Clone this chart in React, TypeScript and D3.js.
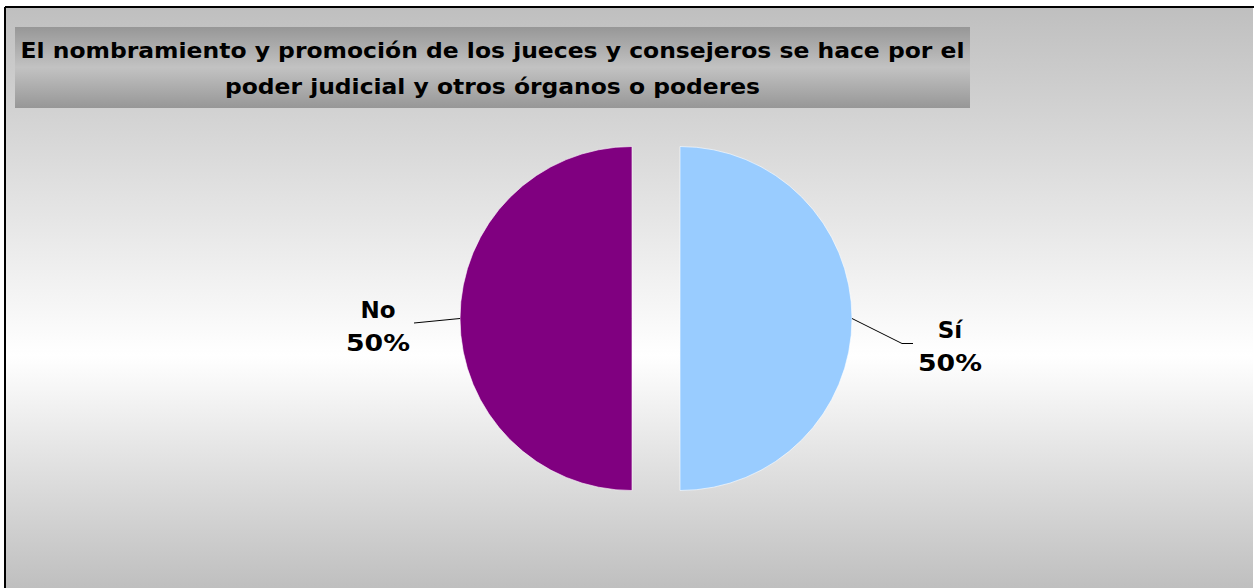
import React, { useEffect } from "react";
import * as d3 from "d3";

const categories = ["Sí", "No"];
const values = [50, 50];
const colors = ["#99CCFF", "#800080"];
const titleLines = [
  "El nombramiento y promoción de los jueces y consejeros se hace por el",
  "poder judicial y otros órganos o poderes",
];

const W = 1254;
const H = 588;

export default function App() {
  useEffect(() => {
    document.body.style.margin = "0";
    document.body.style.overflow = "hidden";
  }, []);
  const cx = 656;
  const cy = 318.5;
  const r = 172;
  const explode = 24;
  const pie = d3.pie<number>().sort(null).startAngle(0).endAngle(2 * Math.PI);
  const arcs = pie(values);
  const arcGen = d3.arc<d3.PieArcDatum<number>>().innerRadius(0).outerRadius(r);
  const total = d3.sum(values);
  const fmt = d3.format(".0%");

  return (
    <svg width={W} height={H} style={{ position: "absolute", left: 0, top: 0, display: "block" }}>
      <defs>
        <linearGradient id="bg" x1="0" y1="0" x2="0" y2="1">
          <stop offset="0" stopColor="#bfbfbf" />
          <stop offset="0.6" stopColor="#ffffff" />
          <stop offset="1" stopColor="#bfbfbf" />
        </linearGradient>
        <linearGradient id="tb" x1="0" y1="0" x2="0" y2="1">
          <stop offset="0" stopColor="#979797" />
          <stop offset="0.5" stopColor="#c2c2c2" />
          <stop offset="1" stopColor="#979797" />
        </linearGradient>
      </defs>
      <rect x={0} y={0} width={W} height={H} fill="#ffffff" />
      <rect x={5} y={7} width={W - 6} height={H - 7} fill="url(#bg)" />
      <line x1={5} y1={7} x2={W} y2={7} stroke="#000" strokeWidth={2} />
      <line x1={5} y1={7} x2={5} y2={H} stroke="#000" strokeWidth={2} />
      <rect x={15} y={27} width={955} height={81} fill="url(#tb)" />
      {titleLines.map((t, i) => (
        <text
          key={i}
          x={492.5}
          y={58 + i * 36}
          textAnchor="middle"
          fontFamily="DejaVu Sans, Verdana, sans-serif"
          fontWeight="bold"
          fontSize={21}
          textLength={i === 0 ? 944 : 535}
          lengthAdjust="spacingAndGlyphs"
          fill="#000"
        >
          {t}
        </text>
      ))}
      {arcs.map((a, i) => {
        const mid = (a.startAngle + a.endAngle) / 2;
        const dx = Math.sin(mid) * explode;
        const dy = -Math.cos(mid) * explode;
        return (
          <path
            key={i}
            d={arcGen(a) || ""}
            transform={`translate(${cx + dx},${cy + dy})`}
            fill={colors[i]}
            stroke="#ffffff"
            strokeWidth={0.6}
          />
        );
      })}
      {arcs.map((a, i) => {
        const mid = (a.startAngle + a.endAngle) / 2;
        const side = Math.sin(mid) >= 0 ? 1 : -1;
        const sx = cx + Math.sin(mid) * explode + side * r;
        const sy = cy;
        const pts =
          side > 0
            ? [
                [sx, sy],
                [sx + 50, sy + 25],
                [sx + 61, sy + 25],
              ]
            : [
                [sx, sy],
                [sx - 46, sy + 4.5],
              ];
        const lx = side > 0 ? sx + 98 : sx - 82;
        const ly = side > 0 ? sy + 19 : sy - 1;
        return (
          <g key={"l" + i}>
            <polyline
              points={pts.map((p) => p.join(",")).join(" ")}
              fill="none"
              stroke="#000"
              strokeWidth={1}
            />
            <text
              x={lx}
              y={ly}
              textAnchor="middle"
              fontFamily="DejaVu Sans, Verdana, sans-serif"
              fontWeight="bold"
              fontSize={23}
              fill="#000"
            >
              {categories[i]}
            </text>
            <text
              x={lx}
              y={ly + 33}
              textAnchor="middle"
              fontFamily="DejaVu Sans, Verdana, sans-serif"
              fontWeight="bold"
              fontSize={23}
              textLength={64}
              lengthAdjust="spacingAndGlyphs"
              fill="#000"
            >
              {fmt(values[i] / total)}
            </text>
          </g>
        );
      })}
    </svg>
  );
}
